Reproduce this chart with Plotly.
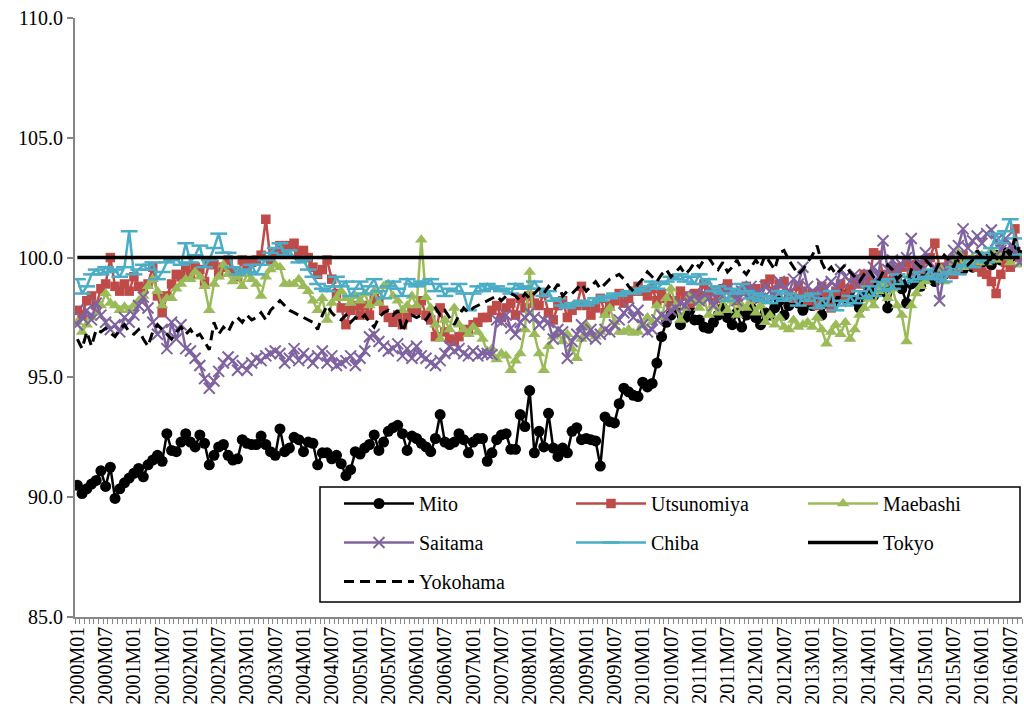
import plotly.graph_objects as go

# ---------------- data ----------------
years = list(range(2000, 2017))
months = [f"{y}M{m:02d}" for y in years for m in range(1, 13)][:201]  # 2000M01 .. 2016M09

mito = [
    90.5, 90.15, 90.35, 90.55, 90.7, 91.1, 90.45, 91.25, 89.95, 90.35, 90.6, 90.8,
    91.0, 91.2, 90.85, 91.35, 91.55, 91.75, 91.5, 92.65, 91.95, 91.9, 92.3, 92.65,
    92.3, 92.1, 92.6, 92.25, 91.35, 91.75, 92.1, 92.2, 91.75, 91.55, 91.6, 92.4,
    92.25, 92.2, 92.2, 92.55, 92.2, 91.9, 91.75, 92.85, 91.9, 92.05, 92.5, 92.4,
    91.9, 92.3, 92.25, 91.35, 91.85, 91.85, 91.6, 91.75, 91.4, 90.9, 91.15, 91.9,
    91.8, 92.05, 92.2, 92.6, 91.95, 92.3, 92.75, 92.9, 93.0, 92.65, 91.95, 92.55,
    92.45, 92.25, 92.1, 91.9, 92.45, 93.45, 92.3, 92.2, 92.3, 92.65, 92.4, 91.85,
    92.3, 92.45, 92.45, 91.5, 91.85, 92.4, 92.6, 92.65, 92.0, 92.0, 93.45, 92.95,
    94.45, 91.85, 92.75, 92.1, 93.5, 92.05, 91.7, 92.05, 91.85, 92.75, 92.9, 92.4,
    92.45, 92.4, 92.35, 91.3, 93.35, 93.15, 93.1, 93.9, 94.55, 94.4, 94.25, 94.2,
    94.8, 94.6, 94.75, 95.6, 96.7, 97.3, 97.6, 97.9, 97.2, 97.5, 97.8, 97.4,
    97.4, 97.1, 97.05, 97.3, 97.6, 97.9, 97.5, 97.2, 97.7, 97.1, 97.6, 97.9,
    97.5, 97.2, 97.7, 97.6, 97.9, 98.2, 97.6, 98.0, 98.3, 98.1, 97.8, 98.2,
    98.0, 98.3, 97.6, 98.1, 98.4, 98.2, 98.5, 98.3, 98.6, 98.2, 97.9, 98.4,
    98.7, 98.4, 98.9, 98.6, 97.9, 98.8, 99.0, 98.7, 98.1, 98.9, 99.1, 98.8,
    99.2, 99.3, 99.0, 99.5, 99.3, 99.6, 99.4, 99.8, 99.5, 99.7, 99.6, 99.9,
    99.8, 100.0, 99.7, 100.1, 99.9, 100.2, 100.0, 100.3, 100.1,
]

utsunomiya = [
    97.8, 97.6, 98.2, 98.4, 98.0, 98.7, 98.9, 100.0, 98.8, 98.6, 98.9, 98.6,
    99.2, 98.8, 98.7, 98.9, 99.6, 98.4, 97.7, 98.4, 98.9, 99.3, 99.2, 99.6,
    99.3, 99.6, 99.5, 99.0, 99.8, 99.7, 99.3, 99.6, 99.9, 99.4, 99.2, 99.9,
    99.5, 99.8, 99.9, 100.1, 101.6, 99.9, 100.2, 100.5, 100.3, 100.5, 100.6, 100.2,
    100.3, 100.0, 99.6, 99.3, 99.5, 99.9, 99.1, 98.5, 97.9, 97.2, 97.8, 98.0,
    97.6, 98.0, 97.6, 98.3, 98.2, 97.8, 97.5, 97.3, 97.6, 97.2, 97.5, 97.8,
    97.8, 98.2, 97.6, 97.4, 96.7, 97.9, 96.9, 96.6, 96.5, 96.7, 96.9, 97.0,
    97.2, 97.3, 97.5, 97.5, 97.8, 98.0, 97.5, 97.9, 98.1, 97.6, 98.3, 97.9,
    98.4, 98.1, 98.0, 98.5, 97.7, 97.4, 98.0, 98.2, 97.5, 97.8, 98.0, 98.8,
    98.0, 97.6, 97.9, 98.3, 97.7, 98.0, 98.2, 98.5, 98.1, 98.3, 98.6, 98.8,
    98.6, 98.4, 98.7, 98.2, 98.5, 98.3, 98.0, 98.2, 98.6, 98.4, 98.1, 98.5,
    98.4, 98.9, 98.6, 98.1, 98.3, 98.7, 98.9, 98.5, 98.2, 98.6, 98.8, 98.4,
    98.7, 98.3, 98.9, 99.1, 98.6, 98.9, 99.0, 98.5, 98.3, 98.8, 98.6, 98.2,
    98.5, 98.0, 98.8, 98.4, 97.9, 98.6, 98.9, 98.4, 98.7, 99.1, 98.9, 99.3,
    99.0, 100.2, 100.1, 99.3, 99.0, 99.5, 99.2, 99.6, 99.8, 99.4, 99.7, 99.5,
    99.9, 100.0, 100.6, 99.6, 99.4, 99.8, 99.3, 99.6, 100.1, 99.7, 99.9, 99.6,
    99.4, 99.3, 99.0, 98.5, 99.3, 99.8, 99.6, 101.2, 100.0,
]

maebashi = [
    97.3, 96.9, 97.2, 97.5, 97.7, 98.0, 98.5, 98.1, 98.0, 97.8, 97.95, 97.8,
    98.0, 98.2, 98.4, 98.8, 99.1, 98.6, 98.0, 98.3, 98.3, 98.7, 98.9, 99.1,
    99.1, 99.4, 99.2, 98.8, 97.8, 98.9, 99.2, 99.7, 99.3, 99.0, 99.2, 98.8,
    99.3, 99.1, 98.9, 98.4, 99.2, 99.5, 99.7, 99.6, 98.9, 98.9, 98.9, 99.1,
    98.8, 98.6, 98.2, 97.8, 98.3, 97.4, 98.1, 98.3, 98.6, 98.3, 98.1, 98.4,
    98.2, 98.5, 98.0, 98.6, 98.1, 98.8, 98.9, 98.4, 98.2, 97.8, 98.0, 98.4,
    98.0, 100.75, 98.35, 97.9, 97.2, 96.6, 97.4, 97.0, 97.9, 97.2, 97.0, 96.8,
    97.1, 96.9, 96.6, 96.1, 96.2, 95.75, 96.0, 95.9, 95.3, 95.7, 96.0, 97.0,
    99.4, 96.8, 96.0, 95.3, 96.3, 96.7, 96.9, 96.5, 96.8, 96.2, 95.8, 96.6,
    97.2, 96.8, 96.7, 96.9, 97.6, 97.9, 97.3, 96.9, 96.9, 97.0, 96.85, 96.9,
    97.2, 97.5, 97.3, 98.0, 97.5, 98.3, 98.7, 98.0, 97.4, 97.9, 98.4, 98.2,
    97.9, 98.3, 97.6, 98.0, 97.7, 98.3, 97.8, 98.2, 97.6, 98.0, 97.9, 98.2,
    97.7, 98.0, 97.3, 97.6, 97.2, 97.5, 97.1, 97.0, 97.4, 97.1, 97.2, 97.3,
    97.1, 97.5, 97.0, 96.4, 96.9, 97.2, 96.8, 97.3, 96.6, 97.0, 97.6, 97.9,
    98.3, 98.0, 98.6, 98.9, 98.3, 98.7, 98.0, 97.6, 96.5, 98.0, 98.5, 98.8,
    99.0, 99.3, 99.2, 99.6, 99.0, 99.4, 99.8, 100.2, 99.6, 99.9, 100.0, 99.8,
    100.1, 99.8, 100.3, 99.9, 100.2, 100.0, 99.8, 100.1, 99.7,
]

saitama = [
    97.2, 97.5, 97.8, 97.4, 98.1, 97.6, 97.3, 97.0, 97.2, 96.9, 97.5, 97.3,
    97.6, 98.0, 98.35, 97.9, 97.3, 96.8, 97.0, 96.2, 97.3, 96.6, 97.2, 96.2,
    96.1, 95.8, 95.5, 94.95, 94.55, 94.85, 95.25, 95.6, 95.85, 95.7, 95.3, 95.5,
    95.3, 95.6, 95.8, 95.7, 95.9, 96.0, 96.1, 96.0, 95.6, 95.8, 96.2, 95.7,
    96.0, 95.8, 95.6, 95.9, 96.1, 95.6, 95.9, 95.5, 95.6, 95.7, 95.9, 95.5,
    95.8, 96.1, 96.7, 96.8, 96.5, 96.3, 96.1, 96.2, 96.4, 95.9, 96.2, 95.8,
    96.3, 95.9, 95.8, 95.6, 95.5, 95.7, 96.0, 96.3, 96.1, 96.2, 96.0, 95.9,
    96.1, 95.9, 96.0, 96.0, 95.95, 97.4, 97.3, 97.6, 97.05, 96.8, 97.3, 97.5,
    97.7, 97.5, 97.2, 97.4, 97.3, 96.6, 97.0, 96.9, 95.8, 96.5, 96.8, 97.2,
    96.7, 97.0, 96.6, 96.8, 97.0, 96.9, 97.2, 97.4, 97.7, 97.9, 97.5, 97.8,
    97.2, 96.9, 97.0, 97.4, 97.6, 97.5, 97.8, 97.9, 98.1, 98.0, 98.3, 98.4,
    98.2, 98.5, 98.3, 98.0, 98.6, 98.4, 98.7, 98.5, 98.2, 98.6, 98.4, 98.8,
    98.5, 98.3, 98.8, 98.6, 98.4, 99.0, 98.7, 98.5, 99.1, 98.9, 99.6, 98.8,
    98.6, 98.4, 98.9, 98.7, 99.0, 98.8, 99.5, 99.2, 99.0, 99.3, 98.9, 99.1,
    99.3, 99.6, 99.2, 100.7, 99.5, 99.9, 99.4, 99.7, 100.0, 100.8, 99.6, 99.8,
    100.2, 99.8, 99.5, 98.2, 99.4, 99.9, 100.3, 100.5, 101.2, 100.4, 100.7, 100.9,
    100.6, 101.0, 101.15, 100.7, 100.3, 100.8, 100.5, 100.2, 99.8,
]

chiba = [
    99.1, 98.5, 98.8, 99.3, 99.5, 99.3, 99.6, 99.4, 99.5, 99.2, 99.6, 101.1,
    99.3, 99.5, 99.7, 99.5, 99.8, 99.1, 99.4, 99.8, 99.9, 100.0, 99.7, 100.6,
    99.8, 100.1, 100.5, 99.6, 99.9, 100.4, 101.0, 100.2, 100.2, 99.6, 99.3, 99.5,
    99.4, 99.7, 99.3, 99.7, 99.9, 100.2, 100.4, 100.6, 100.1, 100.3, 100.0, 99.8,
    99.9, 99.5, 99.2, 98.9, 98.7, 98.6, 98.8, 99.2, 98.8, 99.0, 98.4, 98.7,
    99.0, 98.5, 98.8, 99.1, 98.6, 98.3, 98.8, 99.0, 98.7, 98.4, 99.1, 98.9,
    98.8, 99.0, 98.9, 99.1, 98.6, 98.9, 98.4, 98.7, 98.6, 98.9, 98.5, 97.8,
    98.5, 98.8, 98.6, 98.9, 98.7, 98.8, 98.6, 98.7, 98.5, 98.9, 98.7, 98.8,
    98.7, 99.0, 98.7, 98.4, 98.6, 98.2, 98.3, 98.0, 97.9, 98.1, 98.0, 98.2,
    98.0, 98.1, 98.3, 98.2, 98.4, 98.3, 98.5, 98.4, 98.5, 98.6, 98.5, 98.7,
    98.6, 98.8, 99.0, 98.7, 98.9, 99.0, 99.2, 99.1, 99.3, 99.0, 99.2, 98.9,
    99.3, 98.9, 99.1, 98.6, 98.8, 98.5, 98.2, 98.7, 98.5, 98.9, 98.6, 98.3,
    98.5, 98.2, 98.4, 98.1, 98.3, 98.6, 98.2, 98.5, 98.3, 98.0, 98.4, 98.2,
    98.5, 97.9, 98.3, 98.0, 98.6, 97.8, 98.2, 98.0, 98.4, 98.1, 98.6, 98.3,
    98.8, 98.4, 99.0, 98.6, 99.1, 98.7, 99.3, 98.9, 99.2, 99.0, 99.4, 99.1,
    99.2, 99.5, 99.1, 99.3, 99.0, 99.4, 99.6, 99.3, 99.7, 100.0, 99.6, 99.9,
    100.2, 99.8, 100.4, 101.0, 100.6, 101.1, 101.6, 100.8, 100.1,
]

tokyo = [100.0] * len(months)

yokohama = [
    96.6, 96.2, 96.9, 96.3, 97.0, 96.9, 97.05, 96.85, 96.7, 97.0, 97.2, 96.9,
    96.8, 97.0, 96.6, 96.3, 96.9, 97.2, 97.0, 96.8, 96.6, 96.9, 97.1, 96.8,
    97.0, 96.7, 96.8, 96.5, 96.15, 97.3, 96.8, 97.1, 96.9, 97.3, 97.5, 97.3,
    97.6, 97.4, 97.5, 97.7, 97.4, 97.8, 98.0, 98.2, 98.0, 97.8, 97.7, 97.6,
    97.5, 97.4, 97.3, 97.0, 97.6, 98.0, 97.7, 97.5, 97.4, 97.6, 97.3, 97.5,
    97.4, 97.6, 97.3, 97.1, 97.5, 97.7, 97.8, 97.6, 97.8, 96.9, 97.4, 97.6,
    97.5, 97.6, 97.4, 97.7, 97.9, 97.6, 97.8, 97.5, 97.2, 97.6, 97.9, 97.7,
    97.9, 98.0, 98.1, 98.2, 98.3, 98.4, 98.2, 98.4, 98.5, 98.4, 98.2, 98.5,
    98.3, 98.5, 98.7, 98.5, 98.8, 98.6, 98.9, 98.4, 98.6, 98.5, 98.7, 98.9,
    98.6, 98.8, 99.0, 98.7, 98.9, 99.1, 99.2, 99.3, 99.1, 98.8, 98.6, 98.9,
    99.1, 99.4, 99.2, 99.0, 99.3, 99.5, 99.2, 99.4, 99.6, 99.3, 99.5, 99.8,
    99.6, 99.9, 100.0, 99.7, 99.5, 99.8, 99.4, 99.6, 99.9, 99.5, 99.3, 99.6,
    99.9, 99.6, 100.1, 99.8, 99.5, 100.2, 100.3, 99.9, 99.6, 99.3, 99.5, 99.8,
    100.1, 100.5, 99.8, 99.4, 99.6, 99.3, 99.5, 99.7, 99.4, 99.2, 99.0, 99.3,
    99.5, 99.2, 99.0, 99.4, 99.7, 99.5, 99.1, 99.3, 98.8, 99.5, 99.8, 99.6,
    99.9, 99.7, 99.4, 99.8, 100.1, 99.9, 99.6, 100.2, 100.0, 99.7, 99.9, 100.3,
    100.0, 99.7, 100.2, 100.0, 99.8, 100.4, 100.1, 100.8, 100.2,
]

for _name, _s in [("mito", mito), ("utsunomiya", utsunomiya), ("maebashi", maebashi),
                  ("saitama", saitama), ("chiba", chiba), ("yokohama", yokohama)]:
    assert len(_s) == len(months), (_name, len(_s))

y_ticks = [85, 90, 95, 100, 105, 110]

# ---------------- styling ----------------
FONT = '"Liberation Serif", "Times New Roman", Times, serif'
AXIS_GRAY = "#868686"
x = list(range(len(months)))

fig = go.Figure()

def add(name, y, color, legend, symbol=None, msize=10, mline=None, width=2.5, dash=None):
    marker = None
    mode = "lines"
    if symbol:
        mode = "lines+markers"
        marker = dict(symbol=symbol, size=msize, color=color)
        if mline:
            marker["line"] = mline
    fig.add_trace(go.Scatter(
        x=x, y=y, name=name, mode=mode, marker=marker,
        line=dict(color=color, width=width, dash=dash),
        legend=legend, legendgroup=name,
        hovertext=months, hoverinfo="text+y+name",
    ))

add("Mito", mito, "#000000", "legend", symbol="circle", msize=11)
add("Utsunomiya", utsunomiya, "#BE4B48", "legend2", symbol="square", msize=9.5)
add("Maebashi", maebashi, "#9BBB59", "legend3", symbol="triangle-up", msize=11)
add("Saitama", saitama, "#7F63A1", "legend", symbol="x-thin", msize=11,
    mline=dict(width=2, color="#7F63A1"))
add("Chiba", chiba, "#4BACC6", "legend2", symbol="line-ew", msize=12,
    mline=dict(width=2.5, color="#4BACC6"))
add("Tokyo", tokyo, "#000000", "legend3", width=3.5)
add("Yokohama", yokohama, "#000000", "legend", width=3, dash="10px,6px")

plot_l, plot_r, plot_t, plot_b = 75, 1022, 18, 617
pw, ph = plot_r - plot_l, plot_b - plot_t

def px(xp):
    return (xp - plot_l) / pw

def py(yp):
    return (plot_b - yp) / ph

leg_common = dict(
    font=dict(family=FONT, size=20, color="black"),
    bgcolor="rgba(0,0,0,0)", borderwidth=0, itemwidth=70,
    tracegroupgap=10, traceorder="grouped",
    xanchor="left", yanchor="top", orientation="v",
)

legend_top = py(484)
fig.update_layout(
    width=1024, height=717,
    margin=dict(l=plot_l, r=1024 - plot_r, t=plot_t, b=717 - plot_b),
    paper_bgcolor="white", plot_bgcolor="white",
    font=dict(family=FONT, size=20, color="black"),
    showlegend=True,
    legend=dict(x=px(339), y=legend_top, **leg_common),
    legend2=dict(x=px(571), y=legend_top, **leg_common),
    legend3=dict(x=px(803), y=legend_top, **leg_common),
    shapes=[dict(type="rect", xref="paper", yref="paper",
                 x0=px(320), x1=px(1020), y0=py(602), y1=py(487),
                 line=dict(color="black", width=1.5), fillcolor="white", layer="below")],
)

fig.update_xaxes(
    range=[-0.5, len(months) - 0.5],
    tickmode="array", tickvals=x[::6], ticktext=months[::6],
    tickangle=-90, ticks="", showgrid=False, zeroline=False, automargin=False,
    showline=True, linecolor=AXIS_GRAY, linewidth=1.5,
    tickfont=dict(family=FONT, size=20, color="black"),
    minor=dict(ticks="outside", tickmode="linear", tick0=-0.5, dtick=1,
               ticklen=5, tickwidth=1, tickcolor=AXIS_GRAY, showgrid=False),
)
fig.update_yaxes(
    range=[85, 110], tickmode="array", tickvals=y_ticks,
    ticktext=[f"{v:.1f}" for v in y_ticks],
    ticks="outside", ticklen=6, tickcolor=AXIS_GRAY, tickwidth=1.5,
    showgrid=False, zeroline=False, automargin=False,
    showline=True, linecolor=AXIS_GRAY, linewidth=2,
    tickfont=dict(family=FONT, size=20, color="black"),
)

fig.write_html(
    "out.html",
    config={"displayModeBar": False},
    post_script="document.body.style.margin='0';document.body.style.overflow='hidden';",
)
